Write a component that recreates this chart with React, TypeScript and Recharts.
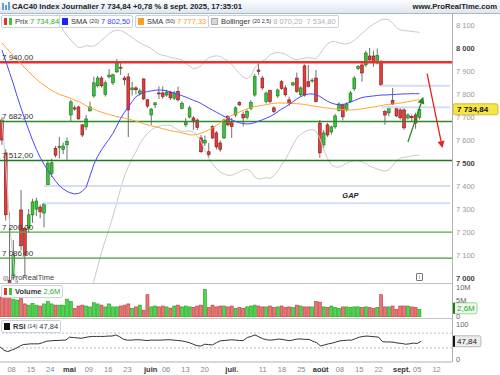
import React from "react";
import { ComposedChart, Bar, Line, XAxis, YAxis, ReferenceLine, ReferenceDot } from "recharts";

// trading days shown (MM-DD, 2025)
const dates = [
  "04-03","04-04","04-07","04-08","04-09","04-10","04-11","04-14","04-15","04-16","04-17","04-22","04-23","04-24","04-25","04-28","04-29","04-30",
  "05-02","05-05","05-06","05-07","05-08","05-09","05-12","05-13","05-14","05-15","05-16","05-19","05-20","05-21","05-22","05-23","05-26","05-27","05-28","05-29","05-30",
  "06-02","06-03","06-04","06-05","06-06","06-09","06-10","06-11","06-12","06-13","06-16","06-17","06-18","06-19","06-20","06-23","06-24","06-25","06-26","06-27","06-30",
  "07-01","07-02","07-03","07-04","07-07","07-08","07-09","07-10","07-11","07-14","07-15","07-16","07-17","07-18","07-21","07-22","07-23","07-24","07-25","07-28","07-29","07-30","07-31",
  "08-01","08-04","08-05","08-06","08-07","08-08","08-11","08-12","08-13","08-14","08-15","08-18","08-19","08-20","08-21","08-22","08-25","08-26","08-27","08-28","08-29",
  "09-01","09-02","09-03","09-04","09-05","09-08",
];
// empty slots on the right of the last candle
const futureDates = ["09-09","09-10","09-11","09-12","09-15","09-16","09-17","09-18"];

const opens = [
  7688,7545,6990,7013,6790,7296,7215,7218,7275,7300,7309,7283,7405,7455,7565,7568,7560,7580,
  7710,7741,7745,7667,7658,7728,7793,7837,7871,7800,7876,7850,7898,7918,7871,7876,7820,7828,7805,7867,7776,
  7710,7754,7806,7806,7797,7808,7783,7812,7739,7667,7701,7697,7688,7610,7588,7550,7659,7632,7588,7610,7703,
  7676,7710,7764,7712,7700,7739,7797,7906,7871,7768,7816,7741,7793,7855,7828,7776,7841,7871,7798,7924,7855,7858,7871,
  7675,7580,7667,7636,7658,7729,7754,7732,7768,7824,7912,7928,7928,7967,7967,7937,7942,7725,7719,7773,7741,
  7732,7732,7697,7703,7710,7700,
];
const highs = [
  7700,7560,7285,7165,6990,7383,7220,7300,7345,7350,7320,7328,7510,7520,7575,7615,7590,7612,
  7776,7752,7750,7670,7710,7768,7877,7880,7880,7860,7910,7890,7954,7935,7880,7893,7854,7835,7825,7870,7780,
  7740,7765,7835,7835,7820,7815,7815,7834,7770,7697,7750,7705,7695,7623,7620,7588,7665,7640,7600,7695,7710,
  7697,7748,7770,7725,7735,7775,7890,7937,7880,7812,7820,7748,7825,7862,7840,7790,7855,7895,7835,7930,7928,7870,7906,
  7688,7645,7675,7665,7715,7765,7760,7765,7815,7880,7928,7942,7990,8002,7990,8000,7950,7732,7750,7828,7748,
  7740,7740,7718,7712,7720,7740,
];
const lows = [
  7580,7250,6760,6990,6700,7120,7005,7200,7240,7270,7260,7220,7400,7440,7525,7520,7540,7515,
  7680,7728,7690,7614,7645,7725,7785,7830,7830,7790,7870,7840,7893,7885,7840,7614,7795,7800,7795,7775,7740,
  7667,7740,7780,7780,7790,7775,7775,7768,7735,7658,7695,7645,7645,7545,7575,7523,7605,7560,7550,7605,7660,
  7610,7700,7750,7660,7690,7730,7790,7885,7820,7760,7760,7718,7785,7820,7790,7750,7835,7806,7790,7790,7830,7850,7765,
  7523,7565,7615,7625,7650,7725,7686,7725,7762,7815,7905,7855,7920,7937,7920,7930,7835,7667,7705,7754,7700,
  7690,7645,7690,7680,7650,7690,
];
const closes = [
  7601,7275,6950,7100,6863,7140,7100,7275,7331,7335,7288,7322,7500,7502,7535,7572,7575,7595,
  7767,7736,7693,7623,7693,7745,7850,7871,7837,7850,7884,7885,7937,7914,7863,7732,7828,7820,7815,7780,7749,
  7736,7763,7802,7790,7810,7785,7806,7776,7761,7681,7741,7680,7655,7550,7600,7537,7610,7571,7560,7688,7667,
  7660,7741,7754,7697,7725,7764,7877,7899,7828,7806,7768,7725,7819,7826,7798,7762,7850,7812,7828,7797,7834,7862,7768,
  7545,7632,7623,7658,7706,7758,7702,7758,7806,7871,7921,7893,7980,7950,7940,7970,7841,7710,7741,7758,7706,
  7698,7654,7710,7698,7675,7734.84,
];
// volume, millions
const volumes = [
  6.7,6.9,6.9,6.0,5.7,6.7,4.4,4.0,4.6,4.0,3.7,4.4,5.2,4.4,4.0,4.0,4.0,6.0,
  5.2,2.9,3.7,4.0,3.7,3.4,4.8,4.4,4.0,3.4,4.4,3.4,3.4,3.7,4.0,4.4,2.9,3.4,4.0,2.3,7.5,
  3.4,3.7,3.4,3.7,3.4,3.0,3.7,4.0,3.4,3.7,3.4,3.2,3.7,4.0,9.2,3.2,4.0,3.4,3.7,3.7,3.4,
  3.7,2.9,3.2,2.9,3.4,3.7,4.0,3.7,3.4,3.4,3.7,3.2,3.4,3.7,3.2,3.4,3.2,4.0,3.7,3.4,3.4,3.4,5.2,
  5.0,3.4,3.2,3.7,3.2,2.9,3.4,3.4,3.2,3.4,3.4,3.2,3.4,3.2,2.9,3.2,7.5,3.4,3.4,3.7,2.6,
  3.7,3.7,3.7,3.4,3.2,2.6,
];
const sma20 = [
  7993,7945,7895,7845,7790,7740,7690,7645,7600,7560,7525,7495,7468,7445,7422,7402,7388,7377,7370,7366,
  7368,7378,7395,7445,7495,7530,7558,7583,7605,7630,7663,7695,7722,7745,7768,7790,7800,7808,7812,7815,
  7818,7819,7818,7815,7811,7806,7800,7794,7788,7781,7774,7768,7760,7750,7740,7731,7722,7713,7704,7696,
  7689,7682,7676,7673,7671,7672,7677,7683,7689,7696,7703,7713,7724,7736,7745,7756,7768,7780,7790,7797,
  7801,7802,7798,7791,7780,7770,7762,7757,7754,7755,7760,7766,7773,7780,7786,7789,7791,7793,7795,7797,
  7797,7798,7799,7800,7801,7802,7802,7803,7803,7802.5,
];
const sma50 = [
  8024,8005,7986,7968,7950,7932,7915,7898,7882,7866,7852,7840,7828,7817,7808,7800,7794,7789,7782,7774,
  7768,7760,7750,7742,7735,7728,7722,7717,7712,7708,7703,7700,7696,7692,7688,7683,7678,7672,7667,7663,
  7659,7655,7650,7646,7642,7638,7636,7632,7628,7624,7623,7626,7631,7637,7645,7655,7665,7676,7688,7699,
  7708,7716,7723,7730,7736,7741,7746,7749,7752,7755,7758,7761,7762,7762,7762,7761,7760,7759,7758,7756,
  7753,7750,7747,7745,7742,7740,7738,7736,7734,7733,7732,7732,7733,7735,7737,7740,7742,7745,7748,7751,
  7754,7756,7758,7760,7762,7765,7768,7771,7774,7777.33,
];
const bbUpper = [
  8300,8400,8550,8620,8660,8680,8670,8640,8590,8520,8440,8360,8290,8230,8170,8120,8080,8055,8037,8018,
  8004,8006,8012,8010,8010,8020,8035,8050,8065,8075,8080,8078,8070,8060,8048,8035,8025,8015,8008,8000,
  7985,7975,7970,7967,7960,7958,7955,7950,7935,7922,7912,7915,7925,7945,7960,7965,7968,7965,7955,7945,
  7930,7910,7890,7875,7868,7880,7915,7935,7945,7955,7972,7980,7982,7980,7975,7965,7955,7950,7955,7958,
  7960,7958,7956,7975,8000,8020,8030,8030,8025,8020,8020,8025,8035,8050,8065,8080,8095,8105,8115,8125,
  8128,8125,8110,8090,8080,8078,8076,8074,8072,8070.2,
];
const bbLower = [
  7690,7500,7240,7070,6920,6800,6710,6650,6610,6600,6610,6630,6646,6660,6674,6684,6696,6700,6703,6714,
  6732,6750,6778,6900,6985,7050,7110,7165,7215,7270,7330,7390,7445,7485,7520,7550,7585,7610,7630,7645,
  7655,7662,7665,7665,7665,7655,7645,7638,7640,7640,7636,7620,7595,7555,7520,7497,7476,7461,7453,7447,
  7448,7454,7462,7471,7474,7464,7440,7431,7433,7437,7434,7446,7466,7492,7515,7547,7581,7610,7625,7636,
  7644,7646,7640,7607,7560,7520,7494,7484,7483,7490,7500,7507,7511,7510,7507,7498,7487,7481,7475,7469,
  7466,7471,7488,7510,7522,7526,7528,7532,7534,7534.8,
];
const rsi = [
  33,24,20,24,28,34,39,40,41,41,41,44,48,49,50,50,51,51,59,58,
  57,56,58,60,61,61,61,61,62,62,65,60,53,51,51,52,52,51,50,51,
  51,51,51,52,52,51,50,49,47,44,40,36,35,40,39,38,44,49,50,51,
  52,51,50,50,58,61,65,60,55,52,51,52,54,53,51,49.5,52,54,54,53,
  53,48,44,35,38,41,43,46,49,50,51,51,55,59,61,62,61,60,59,47,
  46,46,45,43,42,40,41,43,42,47.84,
];

const tickDates = ["04-08","04-15","04-24","05-02","05-09","05-16","05-23","06-02","06-06","06-13","06-20","07-01","07-11","07-18","07-25","08-01","08-08","08-15","08-22","09-01","09-05","09-12"];
const tickLabels = ["08","15","24","mai","09","16","23","juin","06","13","20","juil.","11","18","25","août","08","15","22","sept.","05","12"];
const monthLabels = ["mai","juin","juil.","août","sept."];

const priceTicks = [7000,7100,7200,7300,7400,7500,7600,7700,7800,7900,8000,8100];

const rows = [...dates, ...futureDates].map((d, i) =>
  i < dates.length
    ? {
        d,
        o: opens[i], h: highs[i], l: lows[i], c: closes[i],
        range: [lows[i], highs[i]],
        v: volumes[i],
        sma20: sma20[i], sma50: sma50[i],
        bbUp: bbUpper[i], bbLow: bbLower[i],
        rsi: rsi[i],
      }
    : { d }
);

const FONT = "'Liberation Sans', Arial, sans-serif";
const W = 500;
const RIGHT = 48;

const fmt = (n: number) => String(n).replace(/\B(?=(\d{3})+(?!\d))/g, " ");

const Candle = (props: any) => {
  const { x, y, width, height, payload } = props;
  if (!payload || payload.o == null) return null;
  const { o, h, l, c } = payload;
  const top = Math.min(y, y + height);
  const span = Math.abs(height);
  const k = span / (h - l);
  const py = (v: number) => top + (h - v) * k;
  const cx = x + width / 2;
  const up = c >= o;
  const b1 = py(Math.max(o, c));
  const b2 = py(Math.min(o, c));
  return (
    <g>
      <line x1={cx} x2={cx} y1={top} y2={top + span} stroke="#707070" strokeWidth={1} />
      <rect
        x={cx - 1.4}
        y={b1}
        width={2.8}
        height={Math.max(b2 - b1, 0.8)}
        fill={up ? "#36c636" : "#e43b3b"}
        stroke={up ? "#1e6e1e" : "#7a1a1a"}
        strokeWidth={0.6}
      />
    </g>
  );
};

const VolBar = (props: any) => {
  const { x, y, width, height, payload } = props;
  if (!payload || payload.v == null) return null;
  const up = payload.c >= payload.o;
  return (
    <rect
      x={x + width / 2 - 1.5}
      y={y}
      width={3}
      height={height}
      fill={up ? "#4cd64c" : "#ec7474"}
      stroke={up ? "#239a23" : "#b83a3a"}
      strokeWidth={0.6}
    />
  );
};

const PriceTick = (p: any) => {
  const v = p.payload.value;
  const major = v % 500 === 0;
  return (
    <text x={p.x} y={p.y} dy={3} fontSize={7.5} fontFamily={FONT} fill={major ? "#444" : "#9a9a9a"} fontWeight={major ? "bold" : "normal"}>
      {fmt(v)}
    </text>
  );
};

const PlainTick = (labels: Record<number, string>, shift: Record<number, number>) => (p: any) => (
  <text x={p.x} y={p.y} dy={shift[p.payload.value] ?? 3} fontSize={7.5} fontFamily={FONT} fill="#666">
    {labels[p.payload.value] ?? ""}
  </text>
);

const DateTick = (p: any) => {
  const idx = tickDates.indexOf(p.payload.value);
  const label = tickLabels[idx] ?? "";
  const month = monthLabels.includes(label);
  return (
    <text x={p.x} y={p.y} dy={6} textAnchor="middle" fontSize={7.5} fontFamily={FONT} fill={month ? "#333" : "#888"} fontWeight={month ? "bold" : "normal"}>
      {label}
    </text>
  );
};

const Tag = (props: any) => {
  const { viewBox, text, bg, border, color, marker, w, bold, dy = 0 } = props;
  if (!viewBox) return null;
  const x = viewBox.x + viewBox.width;
  const y = viewBox.y + dy;
  return (
    <g>
      <rect x={x + 1} y={y - 5.5} width={w} height={11} rx={2} fill={bg} stroke={border} strokeWidth={0.8} />
      {marker && <rect x={x + 1} y={y - 5.5} width={2} height={11} fill={marker} />}
      <text x={x + 5} y={y + 3} fontSize={8} fontFamily={FONT} fill={color} fontWeight={bold ? "bold" : "normal"}>
        {text}
      </text>
    </g>
  );
};

const arrow = (color: string) => (p: any) => {
  const { x1, y1, x2, y2 } = p;
  const a = Math.atan2(y2 - y1, x2 - x1);
  const L = 7;
  const s = 3.5;
  const bx = x2 - L * Math.cos(a);
  const by = y2 - L * Math.sin(a);
  const pts = [
    `${x2},${y2}`,
    `${bx + s * Math.sin(a)},${by - s * Math.cos(a)}`,
    `${bx - s * Math.sin(a)},${by + s * Math.cos(a)}`,
  ].join(" ");
  return (
    <g>
      <line x1={x1} y1={y1} x2={bx} y2={by} stroke={color} strokeWidth={1.3} />
      <polygon points={pts} fill={color} />
    </g>
  );
};

const GapLabel = (props: any) => {
  const { viewBox } = props;
  if (!viewBox) return null;
  return (
    <text x={viewBox.x + viewBox.width / 2} y={viewBox.y + 3} textAnchor="middle" fontSize={7.5} fontStyle="italic" fontWeight="bold" fontFamily={FONT} fill="#222">
      GAP
    </text>
  );
};

const levelLabel = (value: string) => ({
  value,
  position: "insideBottomLeft" as const,
  offset: 2,
  fontSize: 8,
  fill: "#333",
  fontFamily: FONT,
});

const box: React.CSSProperties = {
  position: "absolute",
  height: 11,
  border: "1px solid #c8d2de",
  borderRadius: 2,
  background: "rgba(255,255,255,0.92)",
  fontSize: 7.5,
  lineHeight: "11px",
  padding: "0 2px",
  display: "flex",
  alignItems: "center",
  gap: 2,
  whiteSpace: "nowrap",
  color: "#333",
};

const sq = (color: string): React.CSSProperties => ({
  display: "inline-block",
  width: 6,
  height: 7,
  background: color,
  marginRight: 1,
});

export default function App() {
  return (
    <div style={{ position: "absolute", left: 0, top: 0, width: W, height: 375, background: "#fff", overflow: "hidden", fontFamily: FONT }}>
      {/* title bar */}
      <div
        style={{
          position: "absolute", left: 0, top: 0, width: W, height: 13,
          background: "linear-gradient(#fbfcfe, #dfe6ef)", borderBottom: "1px solid #a9b7c7",
          fontSize: 7.7, fontWeight: "bold", color: "#222", lineHeight: "13px",
        }}
      >
        <span style={{ position: "absolute", left: 2, top: 3, width: 2, height: 7, background: "#6aa0d8" }} />
        <span style={{ position: "absolute", left: 5, top: 5, width: 2, height: 5, background: "#6aa0d8" }} />
        <span style={{ position: "absolute", left: 8, top: 2, width: 2, height: 8, background: "#6aa0d8" }} />
        <span style={{ position: "absolute", left: 12 }}>CAC40 Index Journalier 7 734,84 +0,78 % 8 sept. 2025, 17:35:01</span>
        <span style={{ position: "absolute", right: 3 }}>www.ProRealTime.com</span>
      </div>

      {/* price panel */}
      <div style={{ position: "absolute", left: 0, top: 14 }}>
        <ComposedChart width={W} height={269} data={rows} margin={{ top: 0, right: 0, bottom: 0, left: 0 }}>
          <XAxis dataKey="d" hide />
          <YAxis
            orientation="right"
            width={RIGHT}
            domain={[6978, 8150]}
            allowDataOverflow
            ticks={priceTicks}
            interval={0}
            tick={PriceTick}
            tickSize={2}
            tickMargin={2}
            tickLine={false}
            axisLine={false}
          />
          <Line dataKey="bbUp" stroke="#cacaca" strokeWidth={1} dot={false} isAnimationActive={false} />
          <Line dataKey="bbLow" stroke="#cacaca" strokeWidth={1} dot={false} isAnimationActive={false} />
          <ReferenceLine segment={[{ x: "04-22", y: 7401 }, { x: "09-18", y: 7401 }]} stroke="#d3ddf3" strokeWidth={2} />
          <ReferenceLine segment={[{ x: "04-22", y: 7325 }, { x: "09-18", y: 7325 }]} stroke="#d3ddf3" strokeWidth={2} />
          <ReferenceLine segment={[{ x: "08-25", y: 7837 }, { x: "09-18", y: 7837 }]} stroke="#d3ddf3" strokeWidth={2} />
          <ReferenceLine segment={[{ x: "08-25", y: 7744 }, { x: "09-18", y: 7744 }]} stroke="#d3ddf3" strokeWidth={2} />
          <ReferenceLine y={7940} stroke="#e8302f" strokeWidth={2.5} label={levelLabel("7 940,00")} />
          <ReferenceLine y={7682} stroke="#2c8a2c" strokeWidth={1.5} label={levelLabel("7 682,00")} />
          <ReferenceLine y={7512} stroke="#1f7a1f" strokeWidth={1.5} label={levelLabel("7 512,00")} />
          <ReferenceLine y={7200} stroke="#4cb04c" strokeWidth={1.2} label={levelLabel("7 200,00")} />
          <ReferenceLine y={7086} stroke="#3aa03a" strokeWidth={1.2} label={levelLabel("7 086,00")} />
          <Line dataKey="sma50" stroke="#ffa533" strokeWidth={1} dot={false} isAnimationActive={false} />
          <Line dataKey="sma20" stroke="#4747ff" strokeWidth={1} dot={false} isAnimationActive={false} />
          <Bar dataKey="range" shape={Candle} isAnimationActive={false} />
          <ReferenceDot x="08-13" y={7362} r={0} fill="none" stroke="none" label={<GapLabel />} />
          <ReferenceLine segment={[{ x: "09-10", y: 7890 }, { x: "09-16", y: 7566 }]} shape={arrow("#e82020")} />
          <ReferenceLine segment={[{ x: "09-03", y: 7593 }, { x: "09-09", y: 7789 }]} shape={arrow("#1f8a1f")} />
          <ReferenceLine
            y={7734.84}
            stroke="none"
            label={<Tag text="7 734,84" bg="#f7e34a" border="#c9ad12" color="#111" w={45} bold />}
          />
        </ComposedChart>
      </div>

      {/* legend row */}
      <div style={{ ...box, left: 1, top: 15 }}>
        <span style={{ display: "inline-block", width: 3, height: 7, background: "#d33" }} />
        <span style={{ display: "inline-block", width: 3, height: 7, background: "#3c3", marginRight: 1 }} />
        <span>Prix</span>
        <span style={{ color: "#33aa33" }}>7 734,84</span>
      </div>
      <div style={{ ...box, left: 59, top: 15 }}>
        <span style={sq("#1f1fff")} />
        <span>SMA</span>
        <span style={{ fontSize: 5.5 }}>(20)</span>
        <span style={{ color: "#3d3dff" }}>7 802,50</span>
      </div>
      <div style={{ ...box, left: 135, top: 15 }}>
        <span style={sq("#ff9d22")} />
        <span>SMA</span>
        <span style={{ fontSize: 5.5 }}>(50)</span>
        <span style={{ color: "#ff9d22" }}>7 777,33</span>
      </div>
      <div style={{ ...box, left: 208, top: 15 }}>
        <span style={{ ...sq("#d8d8d8"), border: "1px solid #aaa", width: 5, height: 5 }} />
        <span>Bollinger</span>
        <span style={{ fontSize: 5.5 }}>(20 2,5)</span>
        <span style={{ color: "#b4b4b4" }}>8 070,20 &nbsp;7 534,80</span>
      </div>

      {/* watermark + info icon */}
      <div style={{ position: "absolute", left: 3, top: 273, fontSize: 7.5, color: "#444", whiteSpace: "nowrap" }}>
        <span style={{ fontSize: 6 }}>(|)</span> ProRealTime
      </div>
      <div style={{ position: "absolute", left: 416, top: 273, width: 5, height: 6, border: "1px solid #777", borderRadius: 1, fontSize: 5, lineHeight: "6px", textAlign: "center", color: "#555" }}>i</div>

      {/* separators */}
      <div style={{ position: "absolute", left: 0, top: 283, width: 452, height: 1, background: "#c4c4c4" }} />
      <div style={{ position: "absolute", left: 0, top: 318, width: 452, height: 1, background: "#c4c4c4" }} />
      <div style={{ position: "absolute", left: 452, top: 14, width: 1, height: 348, background: "#b0b0b0" }} />

      {/* RSI panel */}
      <div style={{ position: "absolute", left: 0, top: 319 }}>
        <ComposedChart width={W} height={56} data={rows} margin={{ top: 0, right: 0, bottom: 0, left: 0 }}>
          <XAxis
            dataKey="d"
            height={13}
            ticks={tickDates}
            interval={0}
            tick={DateTick}
            tickSize={2}
            tickMargin={2}
            tickLine={false}
            axisLine={{ stroke: "#b0b0b0" }}
          />
          <YAxis
            orientation="right"
            width={RIGHT}
            domain={[-8, 108]}
            allowDataOverflow
            ticks={[0, 100]}
            interval={0}
            tick={PlainTick({ 0: "0", 100: "100" }, { 0: 3, 100: 5 })}
            tickSize={2}
            tickMargin={2}
            tickLine={false}
            axisLine={false}
          />
          <ReferenceLine y={70} stroke="#bdbdbd" strokeDasharray="2 2" />
          <ReferenceLine y={30} stroke="#bdbdbd" strokeDasharray="2 2" />
          <Line dataKey="rsi" stroke="#333" strokeWidth={1} dot={false} isAnimationActive={false} />
          <ReferenceLine
            y={47.84}
            stroke="none"
            label={<Tag text="47,84" bg="#ececec" border="#a8a8a8" color="#222" marker="#111" w={28} />}
          />
        </ComposedChart>
      </div>

      {/* volume panel (drawn after RSI so its bottom label is not covered) */}
      <div style={{ position: "absolute", left: 0, top: 284 }}>
        <ComposedChart width={W} height={37} data={rows} margin={{ top: 0, right: 0, bottom: 4, left: 0 }}>
          <XAxis dataKey="d" hide />
          <YAxis
            orientation="right"
            width={RIGHT}
            domain={[0, 11.1]}
            allowDataOverflow
            ticks={[0, 5, 10]}
            interval={0}
            tick={PlainTick({ 0: "0", 5: "5M", 10: "10M" }, { 0: 2, 5: 1, 10: 3 })}
            tickSize={2}
            tickMargin={2}
            tickLine={false}
            axisLine={false}
          />
          <Bar dataKey="v" shape={VolBar} isAnimationActive={false} />
          <ReferenceLine
            y={2.6}
            stroke="none"
            label={<Tag text="2,6M" bg="#eefaee" border="#7ccf7c" color="#2aa52a" marker="#1f7a1f" w={24} dy={-1} />}
          />
        </ComposedChart>
      </div>
      <div style={{ ...box, left: 1, top: 285 }}>
        <span style={{ display: "inline-block", width: 3, height: 7, background: "#d33" }} />
        <span style={{ display: "inline-block", width: 3, height: 7, background: "#3c3", marginRight: 1 }} />
        <span style={{ fontWeight: "bold" }}>Volume</span>
        <span style={{ color: "#33aa33" }}>2,6M</span>
      </div>
      <div style={{ ...box, left: 1, top: 320 }}>
        <span style={sq("#111")} />
        <span style={{ fontWeight: "bold" }}>RSI</span>
        <span style={{ fontSize: 5.5 }}>(14)</span>
        <span>47,84</span>
      </div>
    </div>
  );
}
